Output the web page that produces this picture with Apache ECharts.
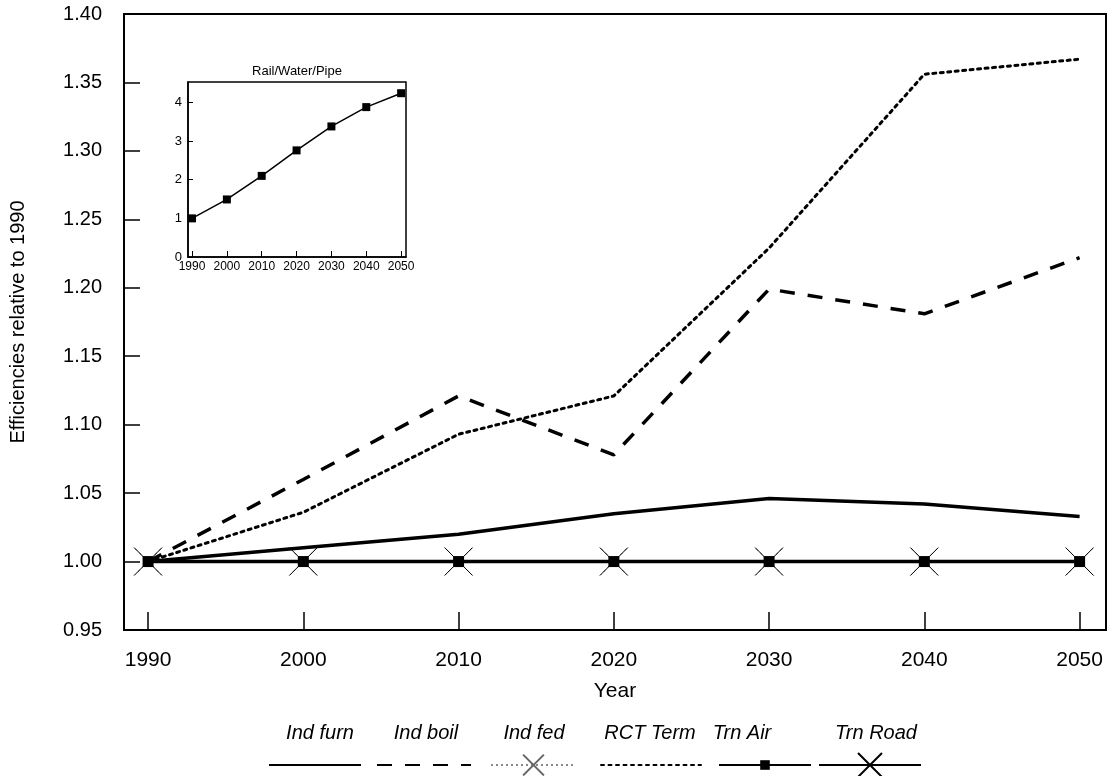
<!DOCTYPE html>
<html>
<head>
<meta charset="utf-8">
<script src="https://cdn.jsdelivr.net/npm/echarts@6/dist/echarts.min.js"></script>
<style>
  html, body { margin: 0; padding: 0; background: #fff; }
  #chart { width: 1112px; height: 776px; }
</style>
</head>
<body>
<div id="chart"></div>
<script>
// data
const years = [1990, 2000, 2010, 2020, 2030, 2040, 2050];
const indFurn = [1.000, 1.010, 1.020, 1.035, 1.046, 1.042, 1.033];
const indBoil = [1.000, 1.060, 1.121, 1.078, 1.199, 1.181, 1.222];
const indFed = [1.000, 1.000, 1.000, 1.000, 1.000, 1.000, 1.000];
const rctTerm = [1.000, 1.036, 1.093, 1.121, 1.229, 1.356, 1.367];
const trnAir = [1.000, 1.000, 1.000, 1.000, 1.000, 1.000, 1.000];
const trnRoad = [1.000, 1.000, 1.000, 1.000, 1.000, 1.000, 1.000];
const railWaterPipe = [1.00, 1.49, 2.10, 2.76, 3.38, 3.88, 4.24];
const yTicks = [0.95, 1.00, 1.05, 1.10, 1.15, 1.20, 1.25, 1.30, 1.35, 1.40];
const insetTicks = [0, 1, 2, 3, 4];
const seriesNames = ['Ind furn', 'Ind boil', 'Ind fed', 'RCT Term', 'Trn Air', 'Trn Road'];

const FONT = 'Liberation Sans';
const pair = (arr) => years.map((y, i) => [y, arr[i]]);
const X_PATH = 'path://M0,0L10,10M10,0L0,10';

const chart = echarts.init(document.getElementById('chart'), null, { renderer: 'canvas' });

// legend: line samples under each name (positions of the original)
const legendSpots = [
  { left: 268, width: 92, h: 12, hideSymbol: true },
  { left: 376, width: 94, h: 12, hideSymbol: true },
  { left: 490, width: 85, h: 26, hideSymbol: false },
  { left: 600, width: 100, h: 12, hideSymbol: true },
  { left: 718, width: 92, h: 12, hideSymbol: false },
  { left: 818, width: 102, h: 30, hideSymbol: false }
];
const legendTextX = [320, 426, 534, 650, 742, 876];

const option = {
  animation: false,
  backgroundColor: '#fff',
  textStyle: { fontFamily: FONT, color: '#000' },
  grid: [
    { left: 122, right: 6, top: 14, bottom: 146, show: true, borderColor: '#000', borderWidth: 2, backgroundColor: 'transparent' },
    { left: 188, top: 82, width: 218, height: 175, show: true, borderColor: '#000', borderWidth: 1.5, backgroundColor: '#fff', z: 10 }
  ],
  xAxis: [
    {
      type: 'value', gridIndex: 0, min: 1988.45, max: 2051.7,
      name: 'Year', nameLocation: 'middle', nameGap: 51,
      nameTextStyle: { fontSize: 21, color: '#000', fontFamily: FONT },
      axisLine: { lineStyle: { color: '#000', width: 2 } },
      axisTick: { inside: true, length: 18, lineStyle: { color: '#000', width: 1.5 }, customValues: years },
      axisLabel: { fontSize: 21, color: '#000', margin: 20, customValues: years, fontFamily: FONT,
        formatter: (v) => String(v) },
      splitLine: { show: false }
    },
    {
      type: 'value', gridIndex: 1, min: 1988.85, max: 2051.4, z: 11,
      axisLine: { lineStyle: { color: '#000', width: 1.5 } },
      axisTick: { inside: true, length: 6, lineStyle: { color: '#000', width: 1 }, customValues: years },
      axisLabel: { fontSize: 12, color: '#000', margin: 4, customValues: years, fontFamily: FONT,
        formatter: (v) => String(v) },
      splitLine: { show: false }
    }
  ],
  yAxis: [
    {
      type: 'value', gridIndex: 0, min: 0.95, max: 1.40,
      name: 'Efficiencies relative to 1990', nameLocation: 'middle', nameGap: 96, nameRotate: 90,
      nameTextStyle: { fontSize: 20, color: '#000', fontFamily: FONT },
      axisLine: { lineStyle: { color: '#000', width: 2 } },
      axisTick: { inside: true, length: 16, lineStyle: { color: '#000', width: 1.5 }, customValues: yTicks },
      axisLabel: { fontSize: 20, color: '#000', margin: 22, customValues: yTicks, fontFamily: FONT,
        formatter: (v) => v.toFixed(2) },
      splitLine: { show: false }
    },
    {
      type: 'value', gridIndex: 1, min: 0, max: 4.53, z: 11,
      axisLine: { lineStyle: { color: '#000', width: 1.5 } },
      axisTick: { inside: true, length: 5, lineStyle: { color: '#000', width: 1 }, customValues: insetTicks },
      axisLabel: { fontSize: 13, color: '#000', margin: 6, customValues: insetTicks, fontFamily: FONT },
      splitLine: { show: false }
    }
  ],
  legend: legendSpots.map((s, i) => ({
    data: [s.hideSymbol
      ? { name: seriesNames[i], itemStyle: { opacity: 0 } }
      : { name: seriesNames[i] }],
    left: s.left, top: 765 - s.h / 2,
    itemWidth: s.width, itemHeight: s.h, itemGap: 0, padding: 0,
    selectedMode: false,
    formatter: () => '',
    textStyle: { fontSize: 1 }
  })),
  graphic: [
    ...seriesNames.map((n, i) => ({
      type: 'text', x: legendTextX[i], y: 733, z: 20,
      style: { text: n, fontFamily: FONT, fontSize: 20, fontStyle: 'italic', fill: '#000',
        textAlign: 'center', textVerticalAlign: 'middle' }
    })),
    {
      type: 'text', x: 297, y: 71, z: 20,
      style: { text: 'Rail/Water/Pipe', fontFamily: FONT, fontSize: 13, fill: '#000',
        textAlign: 'center', textVerticalAlign: 'middle' }
    }
  ],
  series: [
    {
      name: 'Ind furn', type: 'line', xAxisIndex: 0, yAxisIndex: 0, data: pair(indFurn),
      showSymbol: false, symbol: 'none', itemStyle: { color: '#000' },
      lineStyle: { color: '#000', width: 3.5 }, z: 3
    },
    {
      name: 'Ind boil', type: 'line', xAxisIndex: 0, yAxisIndex: 0, data: pair(indBoil),
      showSymbol: false, symbol: 'none', itemStyle: { color: '#000' },
      lineStyle: { color: '#000', width: 3.5, type: [15, 13] }, z: 3
    },
    {
      name: 'Ind fed', type: 'line', xAxisIndex: 0, yAxisIndex: 0, data: pair(indFed),
      symbol: X_PATH, symbolSize: 26,
      itemStyle: { color: 'none', borderColor: '#666', borderWidth: 1, borderType: [3, 3] },
      lineStyle: { color: '#888', width: 1.5, type: [2, 3] }, z: 2
    },
    {
      name: 'RCT Term', type: 'line', xAxisIndex: 0, yAxisIndex: 0, data: pair(rctTerm),
      showSymbol: false, symbol: 'none', itemStyle: { color: '#000' },
      lineStyle: { color: '#000', width: 3, type: [3, 4.5], cap: 'round' }, z: 3
    },
    {
      name: 'Trn Air', type: 'line', xAxisIndex: 0, yAxisIndex: 0, data: pair(trnAir),
      symbol: 'rect', symbolSize: 11, itemStyle: { color: '#000' },
      lineStyle: { color: '#000', width: 3.5 }, z: 4
    },
    {
      name: 'Trn Road', type: 'line', xAxisIndex: 0, yAxisIndex: 0, data: pair(trnRoad),
      symbol: X_PATH, symbolSize: 28,
      itemStyle: { color: 'none', borderColor: '#000', borderWidth: 1 },
      lineStyle: { color: '#000', width: 1 }, z: 5
    },
    {
      name: 'Rail/Water/Pipe', type: 'line', xAxisIndex: 1, yAxisIndex: 1, data: pair(railWaterPipe),
      symbol: 'rect', symbolSize: 8, itemStyle: { color: '#000' },
      lineStyle: { color: '#000', width: 1.5 }, z: 12
    }
  ]
};

chart.setOption(option);
</script>
</body>
</html>
